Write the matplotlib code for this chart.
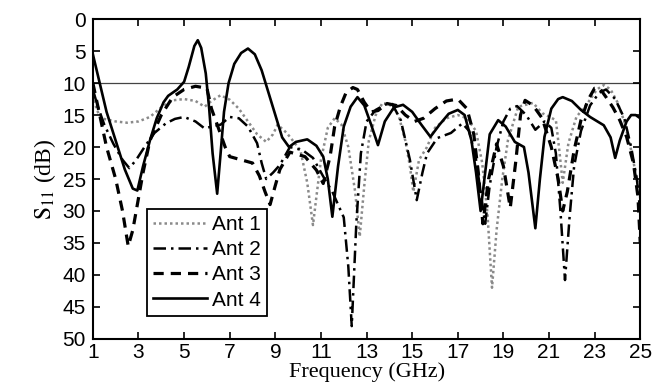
import matplotlib.pyplot as plt
import numpy as np

# S11 curves (frequency in GHz, S11 in dB)
ant1_freq = [1.0, 1.15, 1.35, 2.0, 2.5, 3.0, 3.5, 4.0, 4.5, 5.0, 5.5, 5.9, 6.2,
             6.6, 7.0, 7.4, 7.8, 8.2, 8.6, 8.9, 9.1, 9.5, 10.1, 10.4, 10.65,
             10.8, 11.0, 11.3, 11.6, 11.9, 12.2, 12.5, 12.7, 12.9, 13.1, 13.4,
             13.7, 14.0, 14.4, 14.7, 14.9, 15.05, 15.3, 15.65, 16.0, 16.5, 17.0,
             17.4, 17.8, 18.07, 18.3, 18.5, 18.7, 18.95, 19.2, 19.65, 20.3, 20.7,
             21.3, 21.45, 21.6, 21.85, 22.2, 22.7, 23.1, 23.4, 23.7, 24.0, 24.3,
             24.6, 24.85, 25.0]
ant1_s11 = [11.0, 14.0, 15.5, 16.0, 16.2, 16.0, 15.3, 13.8, 12.7, 12.5, 12.8,
            13.7, 12.8, 11.9, 12.6, 14.0, 16.0, 18.0, 19.2, 18.0, 16.5, 17.8,
            20.5, 25.6, 32.2, 27.8, 22.0, 17.0, 15.5, 16.5, 20.0, 27.0, 34.0,
            26.0, 19.0, 15.0, 13.1, 13.3, 15.0, 19.0, 23.0, 27.0, 22.0, 20.0,
            17.0, 15.5, 15.0, 15.5, 17.5, 22.5, 30.4, 42.0, 33.0, 25.0, 18.9,
            13.7, 13.1, 14.7, 15.8, 20.5, 25.6, 19.4, 15.3, 13.1, 11.0, 10.3,
            11.0, 13.0, 16.0, 20.5, 25.0, 28.0]

ant2_freq = [1.0, 1.2, 1.5, 1.9, 2.3, 2.6, 2.9, 3.3, 3.7, 4.2, 4.6, 5.0, 5.5,
             5.9, 6.2, 6.6, 7.0, 7.4, 7.8, 8.2, 8.4, 8.6, 8.9, 9.2, 9.64, 10.2,
             10.65, 11.1, 11.5, 12.0, 12.2, 12.35, 12.55, 12.75, 13.0, 13.4,
             13.8, 14.1, 14.5, 14.9, 15.2, 15.45, 15.65, 16.1, 16.7, 17.2, 17.5,
             17.8, 18.0, 18.2, 18.4, 18.7, 19.0, 19.3, 19.6, 20.0, 20.4, 20.8,
             21.1, 21.3, 21.5, 21.7, 21.9, 22.1, 22.4, 22.8, 23.2, 23.5, 23.9,
             24.3, 24.6, 24.85, 25.0]
ant2_s11 = [11.0, 13.5, 16.5, 19.5, 22.0, 23.3, 22.0, 19.8, 17.8, 16.3, 15.6,
            15.3, 16.0, 17.1, 16.8, 16.5, 15.3, 15.5, 16.8, 19.4, 22.5, 25.0,
            24.0, 22.8, 20.0, 20.5, 21.7, 24.6, 27.0, 31.0, 38.7, 48.0, 32.0,
            21.0, 16.0, 14.2, 13.4, 13.1, 15.8, 22.0, 28.3, 24.0, 21.0, 18.6,
            17.8, 16.3, 17.5, 22.0, 27.0, 32.0, 26.0, 20.0, 16.0, 14.0, 13.6,
            15.0, 17.3, 16.0, 17.0, 21.0, 30.0, 40.8, 31.0, 23.0, 17.5, 13.5,
            11.5, 11.0, 12.5, 15.5, 20.0, 25.0, 30.0]

ant3_freq = [1.0, 1.3, 1.6, 2.0, 2.3, 2.55, 2.75, 3.0, 3.2, 3.5, 4.0, 4.5, 5.0,
             5.5, 6.0, 6.2, 6.5, 6.8, 7.0, 7.5, 8.0, 8.3, 8.55, 8.77, 9.0, 9.2,
             9.64, 10.3, 10.8, 11.1, 11.4, 11.6, 11.85, 12.1, 12.4, 12.6, 12.9,
             13.2, 13.5, 13.9, 14.3, 14.7, 15.1, 15.5, 16.0, 16.5, 17.0, 17.4,
             17.7, 17.9, 18.1, 18.35, 18.7, 19.0, 19.3, 19.55, 19.75, 19.95,
             20.3, 20.7, 21.1, 21.4, 21.6, 21.8, 22.1, 22.4, 22.7, 23.0, 23.2,
             23.5, 23.8, 24.1, 24.4, 24.7, 24.9, 25.0]
ant3_s11 = [10.0, 15.0, 20.0, 25.0, 30.0, 35.5, 33.0, 28.0, 24.0, 19.0, 15.0,
            12.2, 11.0, 10.5, 10.8, 14.0, 17.0, 20.0, 21.5, 22.0, 22.5, 24.5,
            27.0, 29.0, 26.0, 23.5, 20.8, 21.5, 23.6, 25.7, 21.5, 16.8, 13.7,
            11.5, 10.7, 11.0, 13.0, 14.5, 14.3, 13.2, 13.5, 15.0, 16.0, 15.5,
            14.0, 12.8, 12.5, 14.0, 18.0, 24.0, 32.0, 25.0, 19.5, 23.0, 29.5,
            22.0, 15.0, 12.7, 13.5, 15.5, 20.0, 25.0, 30.0, 27.0, 20.5, 15.8,
            12.7, 10.8, 10.7, 12.2, 13.8, 15.8, 18.4, 22.5, 27.8, 35.0]

ant4_freq = [1.0, 1.3, 1.6, 2.0, 2.4, 2.75, 2.95, 3.2, 3.5, 3.8, 4.1, 4.3, 4.7,
             5.0, 5.2, 5.45, 5.6, 5.75, 5.95, 6.1, 6.25, 6.45, 6.6, 6.75, 6.95,
             7.2, 7.5, 7.8, 8.1, 8.4, 8.7, 9.0, 9.3, 9.6, 9.9, 10.4, 10.8, 11.1,
             11.3, 11.5, 11.75, 12.0, 12.3, 12.6, 12.9, 13.2, 13.5, 13.8, 14.2,
             14.6, 15.0, 15.4, 15.8, 16.2, 16.6, 17.0, 17.3, 17.6, 17.8, 18.0,
             18.2, 18.4, 18.77, 19.1, 19.5, 19.9, 20.1, 20.4, 20.6, 20.8, 21.1,
             21.4, 21.6, 22.0, 22.4, 22.8, 23.4, 23.7, 23.9, 24.1, 24.4, 24.6,
             24.8, 25.0]
ant4_s11 = [5.5, 10.0, 14.5, 19.0, 23.5, 26.5, 26.8, 23.0, 19.0, 15.5, 13.0,
            12.0, 11.0, 9.8, 7.5, 4.2, 3.3, 4.5, 8.5, 14.0, 21.0, 27.3, 21.0,
            14.5, 10.0, 7.0, 5.3, 4.6, 5.5, 8.0, 11.5, 15.0, 18.5, 20.0, 19.2,
            18.8, 19.8, 21.5, 25.0, 30.9, 23.0, 16.8, 13.7, 12.2, 13.5, 16.5,
            19.7, 16.0, 13.8, 13.4, 14.5, 16.5, 18.4, 16.5, 14.8, 14.2, 15.0,
            19.0, 24.0, 30.0, 24.0, 18.0, 15.8, 16.8, 19.2, 20.0, 24.0, 32.7,
            25.0, 18.4, 14.0, 12.5, 12.2, 12.8, 14.2, 15.3, 16.6, 18.5, 21.7,
            19.0, 16.0, 15.0, 15.0, 15.5]

series_labels = ["Ant 1", "Ant 2", "Ant 3", "Ant 4"]
x_ticks = list(range(1, 26, 2))
y_ticks = list(range(0, 51, 5))
threshold_db = 10


def main() -> None:
    plt.rcParams["font.family"] = ["Liberation Sans", "DejaVu Sans"]
    plt.rcParams["mathtext.fontset"] = "stix"

    fig = plt.figure(figsize=(6.54, 3.9), dpi=100)
    ax = fig.add_axes([0.142, 0.131, 0.837, 0.82])

    ax.axhline(threshold_db, color="#444444", linewidth=0.9, zorder=1)

    ax.plot(ant1_freq, ant1_s11, color="#8a8a8a", linestyle=(0, (1, 1.2)),
            linewidth=1.8, label=series_labels[0])
    ax.plot(ant2_freq, ant2_s11, color="black", linestyle=(0, (5, 2, 1, 2)),
            linewidth=1.8, label=series_labels[1])
    ax.plot(ant3_freq, ant3_s11, color="black", linestyle=(0, (3.2, 2.2)),
            linewidth=2.3, label=series_labels[2])
    ax.plot(ant4_freq, ant4_s11, color="black", linestyle="-",
            linewidth=1.9, label=series_labels[3])

    ax.set_xlim(1, 25)
    ax.set_ylim(50, 0)
    ax.set_xticks(x_ticks)
    ax.set_yticks(y_ticks)
    ax.tick_params(direction="in", length=5, width=1.2, top=True, right=True,
                   labelsize=15)
    ax.tick_params(axis="x", pad=3)
    ax.tick_params(axis="y", pad=5)
    for spine in ax.spines.values():
        spine.set_linewidth(1.5)

    ax.set_xlabel("Frequency (GHz)", family="Liberation Serif", fontsize=16,
                  labelpad=0)
    ax.set_ylabel(r"$\mathrm{S}_{11}$ (dB)", family="Liberation Serif",
                  fontsize=17, labelpad=3)

    legend = ax.legend(loc="lower left", bbox_to_anchor=(0.099, 0.072),
                       borderaxespad=0, fontsize=15, handlelength=2.6,
                       handletextpad=0.2, labelspacing=0.3, borderpad=0.3,
                       fancybox=False, framealpha=1)
    legend.get_frame().set_edgecolor("black")
    legend.get_frame().set_linewidth(1.3)

    fig.savefig("out.png", dpi=100)


if __name__ == "__main__":
    main()
